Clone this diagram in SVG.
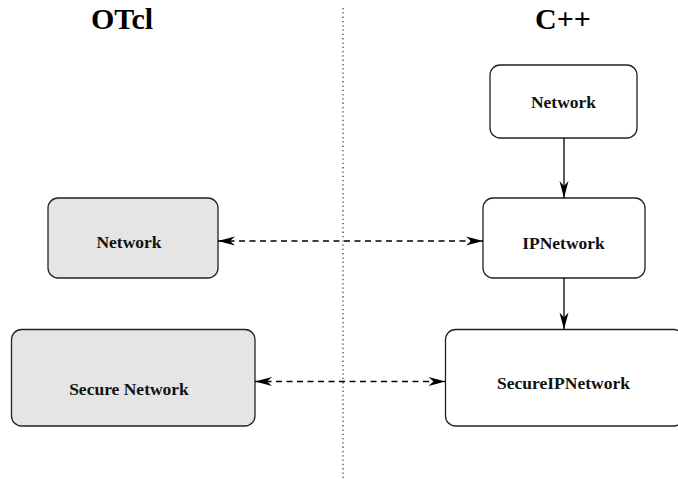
<svg xmlns="http://www.w3.org/2000/svg" width="678" height="483" viewBox="0 0 678 483">
  <style>
    .title { font-family: "Liberation Serif", "Times New Roman", serif; font-weight: bold; font-size: 30px; fill: #000; text-anchor: middle; }
    .label { font-family: "Liberation Serif", "Times New Roman", serif; font-weight: bold; font-size: 17.5px; fill: #111; text-anchor: middle; }
    .box { stroke: #222; stroke-width: 1.3; }
    .otcl { fill: #e5e5e5; }
    .cpp { fill: #fff; }
    .link { stroke: #000; stroke-width: 1.3; fill: none; }
    .map { stroke-dasharray: 6 4.5; }
    .divider { stroke: #444; stroke-width: 1.3; stroke-dasharray: 1.3 3; fill: none; }
  </style>
  <defs>
    <marker id="barb" markerUnits="userSpaceOnUse" markerWidth="17" markerHeight="9" refX="17" refY="4.5" orient="auto-start-reverse" overflow="visible">
      <path d="M17,4.5 L0,0 L5,4.5 L0,9 Z" fill="#000"/>
    </marker>
  </defs>

  <rect width="678" height="483" fill="#fff"/>

  <!-- column separator -->
  <line class="divider" x1="343" y1="8" x2="343" y2="481"/>

  <!-- column headings -->
  <text class="title" x="122" y="29">OTcl</text>
  <text class="title" x="563" y="29">C++</text>

  <!-- OTcl side -->
  <g id="otcl-network">
    <rect class="box otcl" x="48" y="198" width="170" height="80" rx="10"/>
    <text class="label" x="129" y="248">Network</text>
  </g>
  <g id="otcl-secure-network">
    <rect class="box otcl" x="11.5" y="329.5" width="243.5" height="96.5" rx="10"/>
    <text class="label" x="129" y="395">Secure Network</text>
  </g>

  <!-- C++ side -->
  <g id="cpp-network">
    <rect class="box cpp" x="490" y="65" width="147" height="73" rx="10"/>
    <text class="label" x="563.5" y="108">Network</text>
  </g>
  <g id="cpp-ipnetwork">
    <rect class="box cpp" x="483" y="198" width="162" height="80" rx="10"/>
    <text class="label" x="563.5" y="249">IPNetwork</text>
  </g>
  <g id="cpp-secureipnetwork">
    <rect class="box cpp" x="445.5" y="329.5" width="238" height="96.5" rx="10"/>
    <text class="label" x="563.5" y="389">SecureIPNetwork</text>
  </g>

  <!-- connectors -->
  <g id="connectors">
    <line class="link" x1="564" y1="138" x2="564" y2="198" marker-end="url(#barb)"/>
    <line class="link" x1="564" y1="278" x2="564" y2="329.5" marker-end="url(#barb)"/>
    <line class="link map" x1="218" y1="241" x2="483" y2="241" marker-start="url(#barb)" marker-end="url(#barb)"/>
    <line class="link map" x1="255" y1="381.5" x2="445.5" y2="381.5" marker-start="url(#barb)" marker-end="url(#barb)"/>
  </g>
</svg>
